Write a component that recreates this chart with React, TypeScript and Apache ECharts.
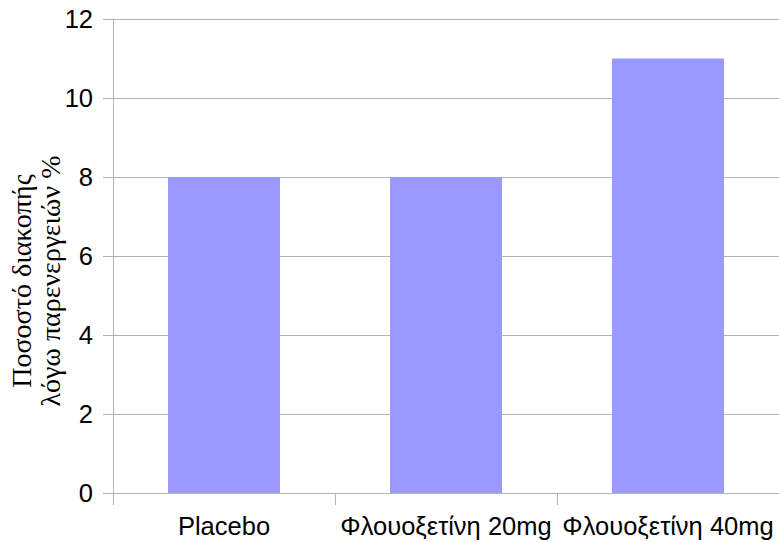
import React, { useEffect, useRef } from "react";
import * as echarts from "echarts";

const categories = ["Placebo", "Φλουοξετίνη 20mg", "Φλουοξετίνη 40mg"];
const values = [8, 8, 11];
const yTitle = ["Ποσοστό διακοπής", "λόγω παρενεργειών %"];

export default function App() {
  const ref = useRef<HTMLDivElement>(null);
  useEffect(() => {
    if (!ref.current) return;
    const chart = echarts.init(ref.current, undefined, { renderer: "svg" });
    chart.setOption({
      animation: false,
      grid: { left: 113, top: 19, width: 669, height: 474 },
      xAxis: {
        type: "category",
        data: categories,
        axisLine: { lineStyle: { color: "#b3b3b3", width: 1 } },
        axisTick: { show: true, length: 12, lineStyle: { color: "#b3b3b3" } },
        axisLabel: {
          color: "#000",
          fontFamily: "Liberation Sans",
          fontSize: 25.5,
          margin: 20,
          interval: 0,
        },
      },
      yAxis: {
        type: "value",
        min: 0,
        max: 12,
        interval: 2,
        axisLine: { show: true, lineStyle: { color: "#b3b3b3", width: 1 } },
        axisTick: { show: true, length: 10, lineStyle: { color: "#b3b3b3" } },
        splitLine: { show: true, lineStyle: { color: "#b3b3b3", width: 1 } },
        axisLabel: {
          color: "#000",
          fontFamily: "Liberation Sans",
          fontSize: 25.5,
          margin: 20,
        },
      },
      series: [
        {
          type: "bar",
          data: values,
          barWidth: 112,
          itemStyle: { color: "#9999ff" },
        },
      ],
      graphic: [
        {
          type: "text",
          x: 36,
          y: 281,
          rotation: Math.PI / 2,
          style: {
            text: yTitle.join("\n"),
            fontFamily: "Liberation Serif",
            fontSize: 28,
            lineHeight: 29,
            fill: "#000",
            textAlign: "center",
            textVerticalAlign: "middle",
          },
        },
      ],
    });
    return () => chart.dispose();
  }, []);
  return (
    <div
      ref={ref}
      style={{ position: "fixed", left: 0, top: 0, width: 779, height: 542, background: "#fff" }}
    />
  );
}
